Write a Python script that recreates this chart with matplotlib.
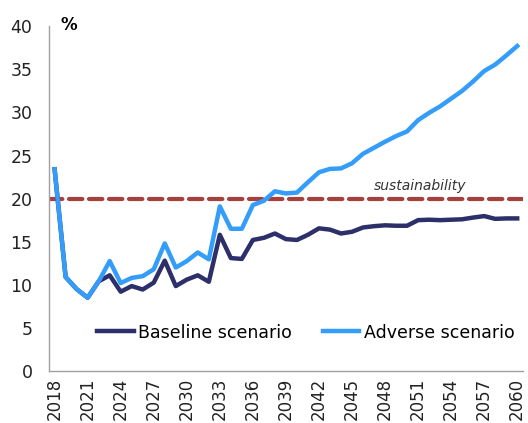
import matplotlib
matplotlib.use("Agg")
import matplotlib.pyplot as plt
import numpy as np

years = list(range(2018, 2061))

baseline = [23.4, 10.9, 9.5, 8.5, 10.4, 11.1, 9.2, 9.85, 9.45, 10.25,
            12.8, 9.85, 10.6, 11.1, 10.35, 15.8, 13.1, 13.0, 15.2, 15.45,
            15.95, 15.3, 15.2, 15.8, 16.55, 16.4, 15.95, 16.15, 16.65, 16.8,
            16.9, 16.85, 16.85, 17.5, 17.55, 17.5, 17.55, 17.6, 17.8, 17.97,
            17.65, 17.7, 17.7]

adverse = [23.4, 10.9, 9.5, 8.5, 10.4, 12.75, 10.2, 10.8, 11.0, 11.8,
           14.8, 12.0, 12.75, 13.75, 12.95, 19.1, 16.5, 16.5, 19.25, 19.75,
           20.85, 20.6, 20.7, 21.9, 23.05, 23.45, 23.5, 24.1, 25.2, 25.9,
           26.6, 27.25, 27.8, 29.1, 29.95, 30.7, 31.6, 32.5, 33.6, 34.8,
           35.55, 36.6, 37.7]

threshold = 20
threshold_label = 'sustainability'
tick_years = years[::3]

plt.rcParams['font.family'] = ['DejaVu Sans']

fig = plt.figure(figsize=(5.28, 4.23), dpi=100)
ax = fig.add_axes([0.093, 0.123, 0.897, 0.815])

ax.axhline(threshold, color='#A6403C', linewidth=3, linestyle=(0, (3.2, 1.6)),
           dash_capstyle='round', zorder=1)
ax.plot(years, baseline, color='#2C2F6A', linewidth=3.2, label='Baseline scenario', zorder=2)
ax.plot(years, adverse, color='#349DFA', linewidth=3.2, label='Adverse scenario', zorder=3)

ax.text(2055.4, 20.7, threshold_label, fontsize=10, style='italic',
        color='#333333', ha='right', va='bottom')
ax.text(2018.5, 40.1, '%', fontsize=12, fontweight='bold', va='center', ha='left')

ax.set_xlim(2017.5, 2060.5)
ax.set_ylim(0, 40)
ax.set_yticks(range(0, 41, 5))
ax.set_xticks(tick_years)
ax.set_xticklabels([str(y) for y in tick_years], rotation=90)
ax.tick_params(axis='both', length=0, colors='#222222')
ax.tick_params(axis='y', pad=12, labelsize=12.5)
ax.tick_params(axis='x', pad=5, labelsize=12)

for side in ['top', 'right']:
    ax.spines[side].set_visible(False)
for side in ['left', 'bottom']:
    ax.spines[side].set_color('#A0A0A0')
    ax.spines[side].set_linewidth(1)

ax.legend(loc='lower center', bbox_to_anchor=(0.542, 0.04), ncol=2, frameon=False,
          fontsize=12.5, handlelength=2.1, handletextpad=0.25, columnspacing=1.8)

fig.savefig('out.png', dpi=100)
